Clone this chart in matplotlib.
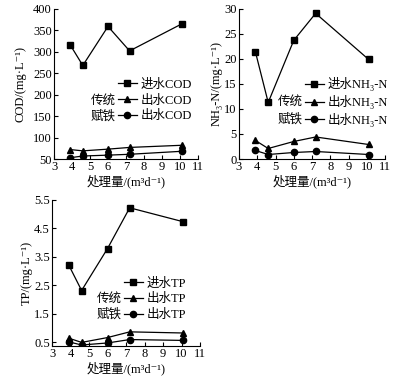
import matplotlib

matplotlib.use("Agg")
import matplotlib.pyplot as plt

plt.rcParams["font.family"] = ["Liberation Serif", "Noto Sans CJK SC", "DejaVu Serif"]
plt.rcParams["axes.unicode_minus"] = False

# flow rate, m3/d
flow = [3.9, 4.6, 6.0, 7.2, 10.1]

cod_in = [316, 268, 359, 302, 365]
cod_trad = [72, 69, 73, 77, 82]
cod_fe = [53, 57, 59, 61, 68]

nh3_in = [21.4, 11.3, 23.7, 29.1, 19.9]
nh3_trad = [3.7, 2.1, 3.5, 4.4, 2.9]
nh3_fe = [1.7, 0.9, 1.3, 1.5, 0.9]

tp_in = [3.22, 2.32, 3.79, 5.22, 4.73]
tp_trad = [0.65, 0.50, 0.67, 0.87, 0.83]
tp_fe = [0.52, 0.41, 0.48, 0.60, 0.57]

x_ticks = list(range(3, 12))
cod_ticks = list(range(50, 401, 50))
nh3_ticks = list(range(0, 31, 5))
tp_ticks = [0.5, 1.5, 2.5, 3.5, 4.5, 5.5]

XLABEL = "处理量/(m³d⁻¹)"
FS = 9


def panel(ax, ins, trad, fe, name, ylabel, ylim, yticks, ytick_fmt, leg_xy, ypad):
    ax.plot(flow, ins, "k-s", ms=4, lw=0.9, label=f"进水{name}")
    ax.plot(flow, trad, "k-^", ms=4.5, lw=0.9, label=f"出水{name}")
    ax.plot(flow, fe, "k-o", ms=4.5, lw=0.9, label=f"出水{name}")
    ax.set_xlim(3, 11)
    ax.set_ylim(*ylim)
    ax.set_xticks(x_ticks)
    ax.set_yticks(yticks)
    ax.set_yticklabels([ytick_fmt.format(v) for v in yticks])
    ax.spines["top"].set_visible(False)
    ax.spines["right"].set_visible(False)
    ax.tick_params(direction="in", length=3, width=0.8, labelsize=FS, pad=1.5)
    ax.set_xlabel(XLABEL, fontsize=FS, labelpad=1)
    ax.set_ylabel(ylabel, fontsize=FS, labelpad=ypad)
    leg = ax.legend(loc="upper left", bbox_to_anchor=leg_xy, frameon=False,
                    fontsize=FS, handlelength=1.5, handletextpad=0.3,
                    labelspacing=0.3, borderpad=0, borderaxespad=0)
    return leg


fig = plt.figure(figsize=(4.0, 3.85), dpi=100)
ax1 = fig.add_axes([0.135, 0.587, 0.36, 0.39])
ax2 = fig.add_axes([0.5975, 0.587, 0.365, 0.39])
ax3 = fig.add_axes([0.13, 0.101, 0.37, 0.38])

legs = [
    panel(ax1, cod_in, cod_trad, cod_fe, "COD", "COD/(mg·L⁻¹)",
          (50, 400), cod_ticks, "{:d}", (0.444, 0.535), 5),
    panel(ax2, nh3_in, nh3_trad, nh3_fe, "NH₃-N", "NH₃-N/(mg·L⁻¹)",
          (0, 30), nh3_ticks, "{:d}", (0.452, 0.545), 1),
    panel(ax3, tp_in, tp_trad, tp_fe, "TP", "TP/(mg·L⁻¹)",
          (0.37, 5.5), tp_ticks, "{:.1f}", (0.486, 0.47), 1),
]

# "传统" / "赋铁" prefixes sit left of the 2nd and 3rd legend rows
fig.canvas.draw()
renderer = fig.canvas.get_renderer()
inv = fig.transFigure.inverted()
for leg in legs:
    x0 = leg.get_window_extent(renderer).x0
    for txt, pre in zip(leg.get_texts()[1:], ("传统", "赋铁")):
        bb = txt.get_window_extent(renderer)
        fx, fy = inv.transform((x0 - 2, (bb.y0 + bb.y1) / 2))
        fig.text(fx, fy, pre, ha="right", va="center", fontsize=FS)

fig.savefig("out.png", dpi=100)
